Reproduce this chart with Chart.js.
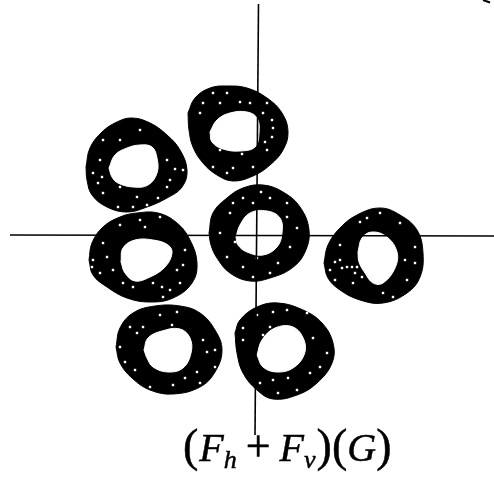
<!DOCTYPE html>
<html>
<head>
<meta charset="utf-8">
<title>(Fh + Fv)(G)</title>
<script src="https://cdn.jsdelivr.net/npm/chart.js@4"></script>
<style>
  html, body { margin: 0; padding: 0; background: #fff; }
  #wrap { position: relative; width: 494px; height: 484px; overflow: hidden; }
  #caption {
    position: absolute; left: 183px; top: 423px; white-space: nowrap; color: #000;
    font-family: "Liberation Serif", serif; font-size: 40px; line-height: 50px;
    -webkit-text-stroke: 0.5px #000;
  }
  #caption i { font-style: italic; }
  #caption .p { font-size: 46px; line-height: 0; }
  #caption .plus { font-size: 44px; line-height: 0; margin: 0 9px; }
  #caption sub { font-size: 26px; font-style: italic; line-height: 0; vertical-align: -7px; }
</style>
</head>
<body>
<div id="wrap">
  <canvas id="chart" width="494" height="484"></canvas>
  <div id="caption"><span class="p">(</span><i style="margin-left:1px">F</i><sub>h</sub><span class="plus">+</span><i>F</i><sub>v</sub><span class="p" style="margin-left:1px">)</span><span class="p">(</span><i>G</i><span class="p">)</span></div>
</div>
<script>
// outlines, origin where the two axes cross
const axisH = [[-248, 0], [236, -1]];
const axisV = [[0.5, 231], [-3, -200]];
const cornerMark = [[225, 235], [232, 232.5]];

const ringTopOuter = [[-70,122],[-63,137],[-48,147],[-31,149],[-11,147],[9,137],[24,122],[30,103],[25,85],[12,70],[-5,59],[-25,54],[-41,60],[-55,72],[-65,88],[-69,105]];
const ringTopInner = [[-48,103],[-41,115],[-28,122],[-11,123],[-1,117],[1,102],[-3,88],[-18,84],[-35,86],[-46,93]];
const ringTopGaps = [[-45,142],[-31,142],[-18,133],[-38,132],[-58,122],[-8,132],[9,132],[14,115],[15,107],[14,98],[7,93],[5,122],[-16,81],[-38,85],[-25,67],[-45,68],[-31,62],[-5,68],[9,85],[-55,132]];

const ringUpLeftOuter = [[-172,68],[-168,87],[-156,103],[-141,113],[-126,117],[-108,112],[-91,100],[-78,85],[-71,65],[-76,48],[-91,37],[-111,28],[-131,23],[-151,28],[-166,40],[-171,55]];
const ringUpLeftInner = [[-149,67],[-143,80],[-131,87],[-118,90],[-106,88],[-101,77],[-101,62],[-110,50],[-125,48],[-140,52],[-146,58]];
const ringUpLeftGaps = [[-155,95],[-138,95],[-118,105],[-158,75],[-165,62],[-160,52],[-155,42],[-138,48],[-140,28],[-125,28],[-111,30],[-100,37],[-91,48],[-83,66],[-75,65],[-91,75],[-88,55],[-121,38],[-156,58]];

const ringCentreOuter = [[-49,2],[-45,22],[-31,37],[-15,47],[5,50],[25,43],[42,28],[51,5],[47,-17],[34,-33],[12,-43],[-8,-46],[-28,-38],[-41,-23],[-47,-10]];
const ringCentreInner = [[-22,-2],[-18,10],[-8,22],[9,24],[22,17],[24,2],[19,-12],[5,-20],[-11,-17],[-20,-10]];
const ringCentreGaps = [[3,43],[-15,37],[-5,32],[-28,22],[-38,2],[-23,-7],[39,7],[29,18],[32,-12],[12,-38],[-5,-42],[-15,-32],[-1,-23],[-31,-22],[-25,32],[20,-28],[12,37],[29,32]];

const ringMidLeftOuter = [[-169,-25],[-166,-8],[-155,8],[-138,18],[-121,22],[-100,22],[-81,12],[-68,-5],[-61,-28],[-66,-48],[-85,-63],[-108,-67],[-131,-63],[-151,-52],[-165,-40]];
const ringMidLeftInner = [[-137,-27],[-135,-13],[-123,-5],[-105,-5],[-90,-10],[-86,-18],[-93,-32],[-108,-42],[-123,-46],[-133,-38]];
const ringMidLeftGaps = [[-118,15],[-138,10],[-155,-8],[-165,-25],[-166,-32],[-151,-22],[-158,-38],[-145,-35],[-135,-48],[-105,-48],[-95,-62],[-88,-55],[-81,-35],[-75,-30],[-78,-48],[-73,-15],[-98,18],[-113,8],[-96,-52],[-125,-52]];

const ringRightOuter = [[66,-28],[70,-10],[82,7],[99,20],[122,27],[142,20],[159,5],[165,-18],[162,-42],[149,-58],[125,-68],[102,-65],[82,-55],[70,-43]];
const ringRightInner = [[100,-17],[104,-3],[114,3],[129,-2],[139,-17],[137,-33],[125,-48],[115,-48],[107,-38],[101,-27]];
const ringRightGaps = [[77,-27],[82,-25],[89,-32],[94,-32],[99,-32],[84,-33],[97,-38],[104,-42],[77,-45],[82,-10],[102,13],[122,22],[142,12],[157,-12],[147,-25],[157,-28],[149,-45],[135,-62],[125,-58],[95,-48],[72,-35],[109,17]];

const ringLowLeftOuter = [[-142,-112],[-138,-93],[-125,-78],[-103,-71],[-78,-71],[-58,-78],[-43,-95],[-36,-115],[-43,-137],[-58,-152],[-85,-159],[-108,-155],[-126,-143],[-138,-128]];
const ringLowLeftInner = [[-114,-115],[-110,-103],[-96,-96],[-78,-94],[-68,-103],[-67,-118],[-75,-133],[-90,-137],[-105,-132],[-111,-123]];
const ringLowLeftGaps = [[-51,-117],[-81,-77],[-98,-80],[-121,-98],[-138,-112],[-133,-127],[-123,-135],[-86,-90],[-108,-152],[-85,-150],[-73,-143],[-58,-148],[-43,-132],[-43,-115],[-55,-105],[-128,-92],[-61,-137],[-115,-92]];

const ringLowRightOuter = [[-23,-98],[-18,-85],[-1,-72],[20,-68],[45,-75],[64,-88],[75,-108],[74,-128],[59,-148],[39,-160],[15,-164],[-1,-155],[-15,-138],[-21,-118]];
const ringLowRightInner = [[-1,-120],[4,-105],[17,-93],[35,-92],[46,-105],[46,-120],[35,-133],[19,-137],[5,-132]];
const ringLowRightGaps = [[-1,-80],[15,-77],[29,-75],[49,-78],[-15,-93],[12,-92],[5,-100],[-15,-105],[55,-103],[69,-118],[52,-138],[30,-143],[20,-158],[2,-148],[39,-155],[62,-132],[15,-145],[22,-135]];

const outers = [ringTopOuter, ringUpLeftOuter, ringCentreOuter, ringMidLeftOuter, ringRightOuter, ringLowLeftOuter, ringLowRightOuter];
const inners = [ringTopInner, ringUpLeftInner, ringCentreInner, ringMidLeftInner, ringRightInner, ringLowLeftInner, ringLowRightInner];
const gaps = [ringTopGaps, ringUpLeftGaps, ringCentreGaps, ringMidLeftGaps, ringRightGaps, ringLowLeftGaps, ringLowRightGaps];

function closed(points) {
  return points.concat([points[0]]);
}

function outline(points, color, order) {
  return {
    data: closed(points),
    showLine: true,
    fill: 'shape',
    backgroundColor: color,
    borderColor: color,
    borderWidth: 1,
    tension: 0.4,
    pointRadius: 0,
    order: order
  };
}

function speckle(points) {
  return {
    data: points,
    pointStyle: 'rect',
    pointRadius: 1.7,
    pointBorderWidth: 0,
    pointBackgroundColor: '#fff',
    order: 2
  };
}

function plainLine(points, width) {
  return {
    data: points,
    showLine: true,
    borderColor: '#000',
    borderWidth: width,
    pointRadius: 0,
    order: 0
  };
}

const datasets = [];
outers.forEach(function (r) { datasets.push(outline(r, '#000', 4)); });
inners.forEach(function (r) { datasets.push(outline(r, '#fff', 3)); });
gaps.forEach(function (r) { datasets.push(speckle(r)); });
datasets.push(plainLine(axisH, 1.6), plainLine(axisV, 1.6), plainLine(cornerMark, 2));

new Chart(document.getElementById('chart'), {
  type: 'scatter',
  data: { datasets: datasets },
  options: {
    responsive: false,
    animation: false,
    layout: { padding: 0, autoPadding: false },
    plugins: { legend: { display: false }, tooltip: { enabled: false } },
    scales: {
      x: { type: 'linear', min: -258, max: 236, display: false },
      y: { type: 'linear', min: -249, max: 235, display: false }
    }
  }
});
</script>
</body>
</html>
